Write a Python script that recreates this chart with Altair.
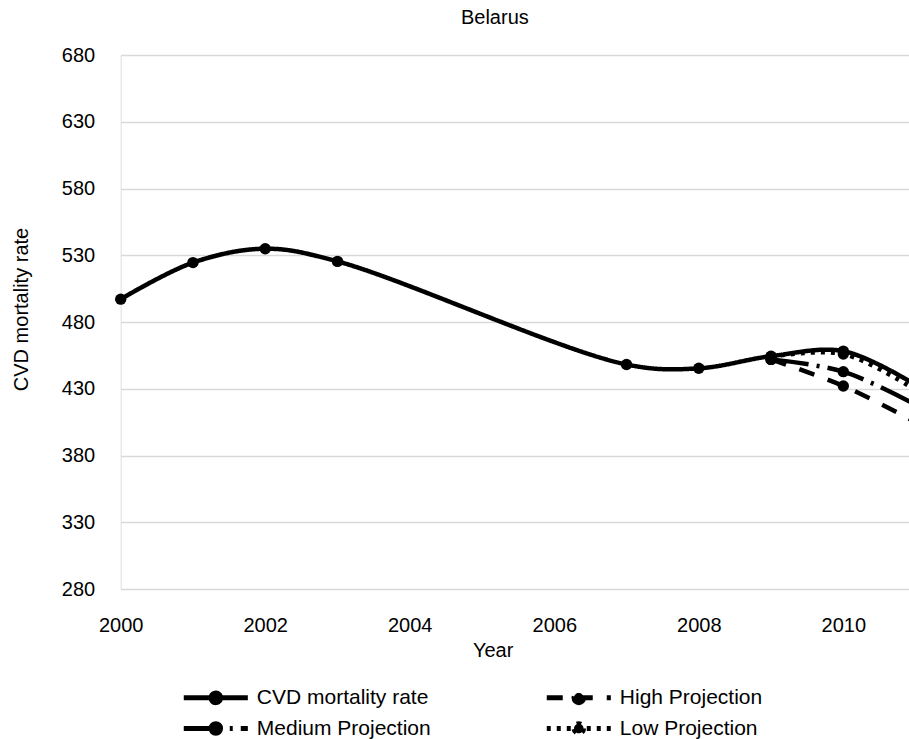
import altair as alt
import pandas as pd

# ---- data ----
cvd_years = [2000, 2001, 2002, 2003, 2007, 2008, 2009, 2010, 2011]
cvd_values = [497.1, 524.5, 534.9, 525.4, 448.2, 445.3, 454.4, 458.2, 433.0]

proj_years = [2009, 2010, 2011]
high_values = [452.0, 432.1, 405.0]
medium_values = [452.0, 442.8, 418.0]
low_values = [454.0, 456.0, 429.0]

# legend is filled column by column: CVD / Medium in column 1, High / Low in column 2
series_names = ["CVD mortality rate", "Medium Projection", "High Projection", "Low Projection"]
x_ticks = [2000, 2002, 2004, 2006, 2008, 2010]
y_ticks = [280, 330, 380, 430, 480, 530, 580, 630, 680]

rows = []
for yr, v in zip(cvd_years, cvd_values):
    rows.append({"Year": yr, "value": v, "series": "CVD mortality rate"})
for name, vals in [("High Projection", high_values),
                   ("Medium Projection", medium_values),
                   ("Low Projection", low_values)]:
    for yr, v in zip(proj_years, vals):
        rows.append({"Year": yr, "value": v, "series": name})
df = pd.DataFrame(rows)

FONT = "Liberation Sans"
PLOT_LEFT = 120.7
PLOT_TOP = 55
W = 788.3
H = 534
PX_PER_YEAR = 72.26
x_max = 2000 + W / PX_PER_YEAR

dash_range = [[1, 0], [38, 8, 3, 8], [16, 14], [4, 6]]
legend_path = "M-3.7,0L3.7,0M0.55,0A0.55,0.55,0,1,1,-0.55,0A0.55,0.55,0,1,1,0.55,0Z"

x_enc = alt.X(
    "Year:Q",
    scale=alt.Scale(domain=[2000, x_max], nice=False, zero=False),
    axis=alt.Axis(
        values=x_ticks, format="d", grid=False, domain=False, ticks=False, tickSize=0,
        labelFontSize=20, labelFont=FONT, labelColor="#000000", labelFlush=False,
        labelBaseline="alphabetic", labelPadding=42,
        title="Year", titleFontSize=20, titleFont=FONT, titleFontWeight="normal",
        titleColor="#000000", titleX=372, titleY=67, titleBaseline="alphabetic",
        titleAnchor="start", titleAlign="center",
    ),
)
y_enc = alt.Y(
    "value:Q",
    scale=alt.Scale(domain=[280, 680], nice=False, zero=False),
    axis=alt.Axis(
        values=y_ticks, grid=True, gridColor="#d9d9d9", gridWidth=1.5,
        domain=False, ticks=False, tickSize=0,
        labelFontSize=20, labelFont=FONT, labelColor="#000000", labelPadding=26,
        title="CVD mortality rate", titleFontSize=20, titleFont=FONT,
        titleFontWeight="normal", titleColor="#000000",
        titleX=-99, titleY=254, titleAngle=270, titleAlign="center",
        titleBaseline="middle", titleAnchor="start",
    ),
)

lines = alt.Chart(df).mark_line(
    color="black", strokeWidth=4.5, interpolate="catmull-rom"
).encode(
    x=x_enc,
    y=y_enc,
    strokeDash=alt.StrokeDash(
        "series:N",
        scale=alt.Scale(domain=series_names, range=dash_range),
        legend=alt.Legend(
            orient="none", legendX=83.6, legendY=631, columns=2,
            columnPadding=105, rowPadding=0,
            symbolType=legend_path, symbolSize=300, symbolStrokeWidth=5,
            symbolFillColor="black", symbolStrokeColor="black",
            labelFontSize=21, labelFont=FONT, labelColor="#000000",
            labelOffset=29.5, labelLimit=400, title=None,
        ),
    ),
    detail="series:N",
)

points = alt.Chart(df).mark_point(
    filled=True, color="black", size=130, opacity=1
).encode(
    x=alt.X("Year:Q"),
    y=alt.Y("value:Q"),
    detail="series:N",
)

chart = alt.layer(lines, points).properties(
    width=W,
    height=H,
    title=alt.TitleParams(
        "Belarus", fontSize=20, font=FONT, fontWeight="normal", color="#000000",
        anchor="middle", dx=-20, offset=17,
    ),
    autosize=alt.AutoSizeParams(type="none"),
    padding={"left": PLOT_LEFT, "top": PLOT_TOP, "right": 0, "bottom": 739 - PLOT_TOP - H},
).configure_view(stroke=None).configure(background="white")

chart.save("out.html", embed_options={"renderer": "svg", "actions": False})
